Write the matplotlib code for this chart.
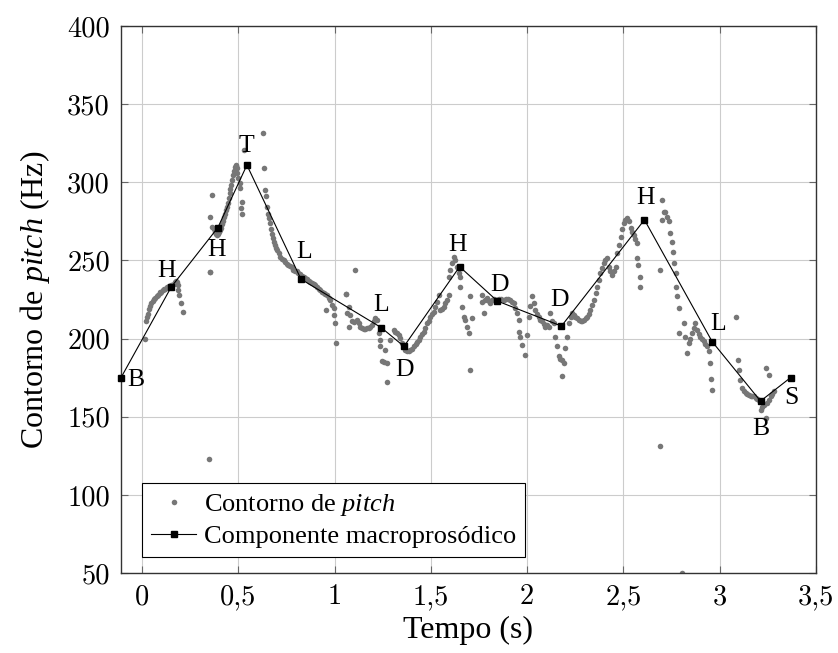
import numpy as np
import matplotlib
matplotlib.use("Agg")
import matplotlib.pyplot as plt
from matplotlib.ticker import FixedLocator, FuncFormatter

plt.rcParams['font.family'] = ['Liberation Serif', 'DejaVu Serif']
plt.rcParams['mathtext.fontset'] = 'custom'
plt.rcParams['mathtext.rm'] = 'Liberation Serif'
plt.rcParams['mathtext.it'] = 'Liberation Serif:italic'

# pitch contour samples (time in s, f0 in Hz)
t_pitch = [
    0.016, 0.021, 0.024, 0.03, 0.035, 0.04, 0.047, 0.055, 0.062, 0.068, 0.075, 0.082,
    0.09, 0.094, 0.1, 0.108, 0.115, 0.12, 0.13, 0.14, 0.15, 0.157, 0.163, 0.17, 0.176,
    0.18, 0.184, 0.187, 0.19, 0.2, 0.21,
    0.353, 0.348,
    0.362, 0.353, 0.362, 0.353, 0.375, 0.38, 0.385, 0.39, 0.395, 0.4, 0.405, 0.41, 0.415,
    0.42, 0.425, 0.43, 0.435, 0.44, 0.445, 0.45, 0.454, 0.458, 0.462, 0.466, 0.47, 0.475,
    0.48, 0.485, 0.489, 0.492, 0.495, 0.5, 0.506, 0.509, 0.518, 0.513, 0.518, 0.527,
    0.63, 0.634, 0.639, 0.645, 0.648, 0.655, 0.66, 0.665, 0.67, 0.675, 0.68, 0.685, 0.69,
    0.695, 0.7, 0.709, 0.718, 0.727, 0.735, 0.743, 0.752, 0.76, 0.769, 0.778, 0.786,
    0.795, 0.804, 0.812, 0.82, 0.83, 0.838, 0.847, 0.855, 0.864, 0.873, 0.882, 0.89, 0.9,
    0.908, 0.916, 0.925, 0.934, 0.942, 0.95, 0.96, 0.968, 0.977, 0.986, 0.956, 0.994,
    0.994, 1.003, 1.008, 1.059, 1.064,
    1.06, 1.072, 1.081, 1.072, 1.107, 1.09, 1.1, 1.116, 1.125, 1.133, 1.142, 1.15, 1.159,
    1.168, 1.177, 1.185, 1.195, 1.203, 1.211, 1.22, 1.228, 1.237, 1.237, 1.263, 1.246,
    1.255, 1.272, 1.272, 1.289, 1.306, 1.315, 1.324, 1.333, 1.341, 1.35, 1.358, 1.367,
    1.375, 1.384, 1.393, 1.4, 1.41, 1.42, 1.428, 1.436, 1.445, 1.453, 1.462, 1.47, 1.48,
    1.488, 1.497, 1.505, 1.514, 1.523, 1.532, 1.54,
    1.549, 1.558, 1.566, 1.575, 1.584, 1.592, 1.592, 1.601, 1.61, 1.618, 1.627, 1.636,
    1.645, 1.653, 1.653, 1.662, 1.67, 1.679, 1.688, 1.696, 1.705, 1.714, 1.701, 1.766,
    1.766, 1.774, 1.783, 1.792, 1.8, 1.809, 1.818, 1.83, 1.843, 1.855, 1.866, 1.878, 1.89,
    1.9, 1.913, 1.922, 1.93, 1.939, 1.948, 1.956, 1.956, 1.965, 1.974, 1.991, 2.0, 2.008,
    2.017, 2.025, 2.034, 2.043, 2.052, 2.06, 2.069, 2.078, 2.086, 2.095, 2.103, 2.112,
    2.121, 2.13, 2.138, 2.147, 2.155, 2.164, 2.172, 2.181, 2.19, 2.181, 2.198, 2.207,
    2.216, 2.225, 2.233, 2.242, 2.25, 2.259, 2.268, 2.277, 2.285, 2.294, 2.303, 2.311,
    2.32, 2.328, 2.337, 2.346, 2.355, 2.363, 2.372, 2.38, 2.389, 2.398, 2.406, 2.415,
    2.424, 2.432, 2.441, 2.45, 2.459, 2.467, 2.476, 2.485, 2.493, 2.502, 2.51, 2.519,
    2.528, 2.537, 2.545, 2.554, 2.562, 2.571, 2.571, 2.576, 2.585, 2.588,
    2.692, 2.692, 2.701, 2.701, 2.71, 2.718, 2.727, 2.736, 2.744, 2.753, 2.758, 2.762,
    2.771, 2.771, 2.779, 2.788, 2.788, 2.805, 2.814, 2.822, 2.831, 2.84, 2.848, 2.857,
    2.866, 2.874, 2.883, 2.892, 2.9, 2.909, 2.917, 2.926, 2.935, 2.943, 2.948, 2.956,
    2.961, 3.087, 3.094, 3.1, 3.108, 3.117, 3.125, 3.134, 3.142, 3.151, 3.16, 3.168,
    3.177, 3.186, 3.194, 3.203, 3.212, 3.22, 3.229, 3.238, 3.238, 3.246, 3.255, 3.255,
    3.264, 3.272, 3.281,
]
f_pitch = [
    200, 211, 214, 216, 219, 221, 223, 224, 225, 226, 227, 228,
    229, 229.5, 230, 231, 231.5, 232, 233, 233.5, 234, 234.5, 235, 236, 237,
    236.5, 234, 231, 228, 223, 217,
    242.3, 123,
    292, 278, 271.7, 242.5, 270, 268, 267, 266.5, 267, 268, 269.5, 271, 273,
    275, 277.5, 280, 282, 284.5, 287, 290, 293, 295.5, 298.5, 301.5, 304.5, 307.5,
    309.5, 310.5, 311, 309, 306, 303, 299.4, 296.2, 287.7, 283.4, 279.6, 320.7,
    331.4, 309, 295, 291, 284.5, 280, 277, 273.8, 270, 267, 264.5, 262, 260,
    258, 256.5, 254.7, 252.5, 251, 250, 249.3, 248, 247, 246.5, 246, 244,
    243.5, 243, 242, 241, 240, 239.5, 238.5, 238, 237, 236.5, 235.5, 235, 234,
    233.3, 232, 231, 230, 229, 228.5, 228, 226, 224.8, 221.6, 218.4, 219.5,
    215.2, 209.9, 197, 228.4, 216.3,
    228.6, 220, 215, 207.7, 244, 211, 210.5, 212, 210, 207.7, 206.5, 206, 206,
    206.5, 207, 207.7, 209, 211, 213, 212, 203.5, 199.2, 195, 192.8, 185.4,
    185, 184.3, 172, 199.2, 205.6, 204.5, 203.5, 202, 200.3, 197, 194.5, 192.8,
    192, 191.8, 192.5, 193.5, 195, 196.5, 198, 199.2, 201.3, 203, 204.5, 206.5, 210,
    211, 213.5, 215.5, 217.3, 220.5, 223.7, 228,
    218.4, 219, 220.5, 222.5, 224.8, 228, 239.7, 244, 248.5, 252.5, 250.4, 246,
    242, 239.7, 233.3, 220.5, 214, 212, 207.7, 203.5, 227, 213, 180, 228,
    223.7, 216.3, 224.8, 225.9, 224, 222.7, 224.8, 225, 224.8, 225, 225.5, 224.8, 225,
    225, 224.8, 223.5, 222.7, 219.5, 216.3, 212, 204.5, 201.3, 196, 189.6, 202.4, 214,
    221, 227, 222.7, 218.4, 216, 214, 212, 211, 209.5, 207.7, 208.8, 207.7,
    216.3, 211, 210, 201.3, 195, 188.6, 187, 186.4, 184.3, 175.8, 194, 201.3,
    210, 214, 216.3, 215, 213.5, 213, 212, 211.5, 211, 212, 213, 214,
    216, 218.4, 221.5, 224.8, 229, 233.3, 237.5, 241.9, 245, 248.3, 250, 251.5,
    246, 243, 240.8, 243, 246, 254.7, 260, 265.3, 270, 273.9, 276, 277,
    275, 270.6, 268.5, 266.4, 264, 261, 251.5, 247.2, 239.7, 233.3,
    244, 131, 288.8, 276, 281.3, 281.3, 278, 275, 267.4, 262, 255.7, 248.3,
    241.9, 233.3, 227, 219.5, 203.5, 50, 210, 201.3, 190.7, 197, 200, 203.5,
    207, 209.9, 205.6, 203, 201.3, 200, 198.2, 196.5, 195, 192, 184.3, 174,
    166.8, 214, 186.4, 180, 173.7, 168.3, 166.5, 165, 164.5, 164, 163.5, 163,
    163, 162, 161.5, 160.9, 154.5, 156, 157.7, 149.2, 181, 158.7, 176.8, 161,
    163, 164.5, 166.2,
]

# macroprosodic component: anchor points and their labels
t_macro = [-0.11, 0.151, 0.393, 0.544, 0.825, 1.242, 1.36, 1.649, 1.845, 2.178, 2.609, 2.961, 3.212, 3.368]
f_macro = [175, 233, 271, 311, 238, 207, 195, 246, 224, 208, 276, 198, 160, 175]
macro_labels = ['B', 'H', 'H', 'T', 'L', 'L', 'D', 'H', 'D', 'D', 'H', 'L', 'B', 'S']
# label offsets (points) relative to each anchor
label_dx = [11, -3.5, -0.7, 0, 2, 0, 0.5, -1.2, 1.4, -1.4, 0.7, 4, 0, 0.5]
label_dy = [-2, 11.5, -16, 13.7, 19.5, 16.3, -17, 15.8, 11.5, 18.7, 15.6, 13, -20, -14.6]

x_ticks = [0, 0.5, 1, 1.5, 2, 2.5, 3, 3.5]
y_ticks = [50, 100, 150, 200, 250, 300, 350, 400]

fig = plt.figure(figsize=(8.38, 6.53), dpi=100)
ax = fig.add_axes([0.1444, 0.1225, 0.8293, 0.8377])

ax.plot(t_pitch, f_pitch, 'o', color='#777777', markersize=4, markeredgewidth=0,
        label=r'Contorno de $\mathit{pitch}$', zorder=2)
ax.plot(t_macro, f_macro, '-s', color='black', linewidth=0.8, markersize=5,
        label='Componente macroprosódico', zorder=3, clip_on=False)

for t, f, s, dx, dy in zip(t_macro, f_macro, macro_labels, label_dx, label_dy):
    ax.annotate(s, (t, f), xytext=(dx, dy), textcoords='offset points',
                ha='center', va='center', fontsize=18.5, zorder=4)

ax.set_xlim(-0.11, 3.5)
ax.set_ylim(50, 400)
ax.xaxis.set_major_locator(FixedLocator(x_ticks))
ax.yaxis.set_major_locator(FixedLocator(y_ticks))
fmt = FuncFormatter(lambda v, pos: ('%g' % v).replace('.', ','))
ax.xaxis.set_major_formatter(fmt)
ax.yaxis.set_major_formatter(fmt)
for lab in ax.get_xticklabels() + ax.get_yticklabels():
    lab.set_fontfamily('cmr10')
    lab.set_fontsize(20.5)

ax.tick_params(direction='in', length=5, width=0.8, color='#666666',
               top=True, right=True, pad=8)
ax.grid(True, color='#cccccc', linewidth=0.8)
ax.set_axisbelow(True)
for sp in ax.spines.values():
    sp.set_color('#333333')
    sp.set_linewidth(1.0)

ax.set_xlabel('Tempo (s)', fontsize=23, labelpad=4)
ax.set_ylabel(r'Contorno de $\mathit{pitch}$ (Hz)', fontsize=23, labelpad=11)

leg = ax.legend(loc='lower left', bbox_to_anchor=(0.03, 0.029), borderaxespad=0,
                fontsize=19, numpoints=1, handlelength=1.7, handletextpad=0.3,
                borderpad=0.35, labelspacing=0.25, fancybox=False, framealpha=1,
                edgecolor='black')
leg.get_frame().set_linewidth(0.8)

fig.savefig('out.png', dpi=100)
